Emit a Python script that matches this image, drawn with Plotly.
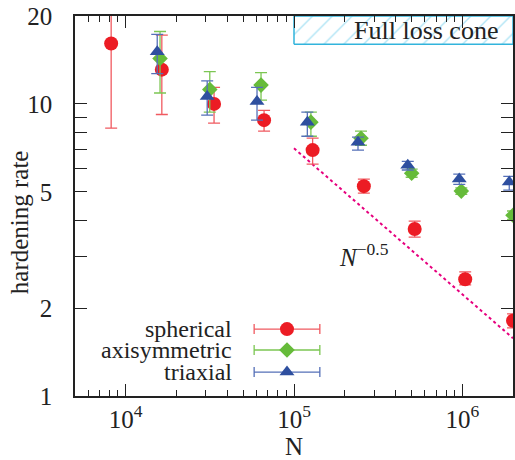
import plotly.graph_objects as go

# ---------------- data ----------------
sph_N = [8200, 16400, 33500, 66400, 129000, 260000, 521000, 1040000, 2000000]
sph_rate = [16.1, 13.1, 10.0, 8.80, 6.95, 5.23, 3.73, 2.51, 1.81]
sph_up = [30.0, 17.2, 11.4, 9.5, 7.64, 5.53, 3.97, 2.66, 1.91]
sph_lo = [8.26, 9.2, 8.59, 8.07, 6.22, 4.95, 3.50, 2.40, 1.71]

axi_N = [16000, 31600, 63700, 126000, 250000, 500000, 986000, 2000000]
axi_rate = [14.3, 11.2, 11.6, 8.66, 7.63, 5.79, 5.03, 4.16]
axi_up = [17.7, 12.9, 12.8, 9.37, 8.07, 5.98, 5.16, 4.30]
axi_lo = [10.9, 9.37, 10.3, 7.75, 7.22, 5.61, 4.90, 4.02]

tri_N = [15400, 30500, 60300, 120000, 240000, 474000, 959000, 1900000]
tri_rate = [15.1, 10.6, 10.2, 8.66, 7.39, 6.17, 5.53, 5.40]
tri_up = [17.3, 12.0, 11.4, 9.37, 7.70, 6.36, 5.75, 5.65]
tri_lo = [12.7, 9.15, 8.8, 7.75, 6.95, 5.94, 5.30, 5.07]

# reference power law N^-0.5
slope_N = [1e5, 2e6]
slope_amp = 7.05   # value at N = 1e5
slope_exp = -0.5

# full loss cone band
flc_N = [1e5, 2e6]
flc_rate = [16.0, 20.0]

y_tickvals = [1, 2, 5, 10, 20]
y_ticktext = ["1", "2", "5", "10", "20"]
y_minor = [3, 4, 6, 7, 8, 9]
x_tickvals = [1e4, 1e5, 1e6]
x_ticktext = ["10<sup>4</sup>", "10<sup>5</sup>", "10<sup>6</sup>"]
x_minor = [6e3, 7e3, 8e3, 9e3] + [k * 1e4 for k in range(2, 10)] + \
          [k * 1e5 for k in range(2, 10)] + [2e6]

series_names = ["spherical", "axisymmetric", "triaxial"]

# ---------------- style ----------------
FONT = "Liberation Serif"
FS = 25
RED, RED_E = "#ec1c24", "#f05a60"
GRN, GRN_E = "#66bb3a", "#7cc653"
BLU, BLU_E = "#2e4f9f", "#5570b8"
MAG = "#e6007e"
CYAN = "#32b4dc"
TXT = "#222"

fig = go.Figure()

# full loss cone hatched band
fig.add_trace(go.Scatter(
    x=[flc_N[0], flc_N[1], flc_N[1], flc_N[0], flc_N[0]],
    y=[flc_rate[0], flc_rate[0], flc_rate[1], flc_rate[1], flc_rate[0]],
    mode="lines", fill="toself",
    fillcolor="rgba(0,0,0,0)",
    fillpattern=dict(shape="/", fgcolor="#62c9ec", bgcolor="rgba(255,255,255,0)",
                     size=14, solidity=0.1),
    line=dict(color=CYAN, width=1.5),
    showlegend=False, hoverinfo="skip"))

# slope line
fig.add_trace(go.Scatter(
    x=slope_N, y=[slope_amp * (n / slope_N[0]) ** slope_exp for n in slope_N],
    mode="lines", line=dict(color=MAG, width=2, dash="dot"),
    showlegend=False))


def add_series(N, r, up, lo, col, ecol, sym, size):
    fig.add_trace(go.Scatter(
        x=N, y=r, mode="markers",
        marker=dict(color=col, symbol=sym, size=size, line=dict(width=0)),
        error_y=dict(type="data", symmetric=False,
                     array=[u - v for u, v in zip(up, r)],
                     arrayminus=[v - l for v, l in zip(r, lo)],
                     color=ecol, thickness=1.3, width=6),
        showlegend=False))


add_series(sph_N, sph_rate, sph_up, sph_lo, RED, RED_E, "circle", 14)
add_series(axi_N, axi_rate, axi_up, axi_lo, GRN, GRN_E, "diamond", 12)
add_series(tri_N, tri_rate, tri_up, tri_lo, BLU, BLU_E, "triangle-up", 13)

# custom key (gnuplot style: label, then error-bar sample)
key_y = [0.176, 0.121, 0.063]
key_cols = [(RED, RED_E, "circle", 14), (GRN, GRN_E, "diamond", 12),
            (BLU, BLU_E, "triangle-up", 13)]
for name, ky, (c, ec, s, sz) in zip(series_names, key_y, key_cols):
    fig.add_trace(go.Scatter(
        x=[0.484], y=[ky], xaxis="x2", yaxis="y2", mode="markers",
        marker=dict(color=c, symbol=s, size=sz),
        error_x=dict(type="constant", value=0.075, color=ec, thickness=1.3, width=5),
        showlegend=False, hoverinfo="skip", cliponaxis=False))
    fig.add_annotation(x=0.362, y=ky, xref="paper", yref="paper", text=name,
                       showarrow=False, xanchor="right", yanchor="middle",
                       font=dict(family=FONT, size=FS - 1, color=TXT))

fig.add_annotation(x=0.802, y=0.962, xref="paper", yref="paper", text="Full loss cone",
                   showarrow=False, xanchor="center", yanchor="middle",
                   font=dict(family=FONT, size=FS + 1, color=TXT))
fig.add_annotation(x=0.659, y=0.371, xref="paper", yref="paper",
                   text="<i>N</i><sup>−0.5</sup>",
                   showarrow=False, xanchor="center", yanchor="middle",
                   font=dict(family=FONT, size=FS, color=TXT))
fig.add_annotation(x=-0.125, y=0.458, xref="paper", yref="paper",
                   text="hardening rate", textangle=-90,
                   showarrow=False, xanchor="center", yanchor="middle",
                   font=dict(family=FONT, size=FS, color=TXT))

fig.update_layout(
    width=515, height=460,
    margin=dict(l=75, r=0, t=16, b=64),
    paper_bgcolor="white", plot_bgcolor="white",
    font=dict(family=FONT, size=FS, color=TXT),
    xaxis=dict(type="log", range=[3.699, 6.301],
               tickvals=x_tickvals, ticktext=x_ticktext,
               ticks="inside", ticklen=12, tickwidth=1.2, tickcolor=TXT,
               minor=dict(tickvals=x_minor, ticks="inside", ticklen=6,
                          tickwidth=1, tickcolor=TXT),
               showline=True, linecolor=TXT, linewidth=1.5, mirror="allticks",
               showgrid=False, zeroline=False,
               title=dict(text="N", font=dict(family=FONT, size=FS), standoff=2)),
    yaxis=dict(type="log", range=[0, 1.30103],
               tickvals=y_tickvals, ticktext=y_ticktext,
               ticks="inside", ticklen=12, tickwidth=1.2, tickcolor=TXT,
               minor=dict(tickvals=y_minor, ticks="inside", ticklen=12,
                          tickwidth=1.2, tickcolor=TXT),
               showline=True, linecolor=TXT, linewidth=1.5, mirror="allticks",
               showgrid=False, zeroline=False, ticklabelstandoff=16),
    xaxis2=dict(range=[0, 1], overlaying="x", visible=False, fixedrange=True),
    yaxis2=dict(range=[0, 1], overlaying="y", visible=False, fixedrange=True),
)

fig.write_html("out.html", config={"displayModeBar": False},
               post_script="document.body.style.margin='0px';")
